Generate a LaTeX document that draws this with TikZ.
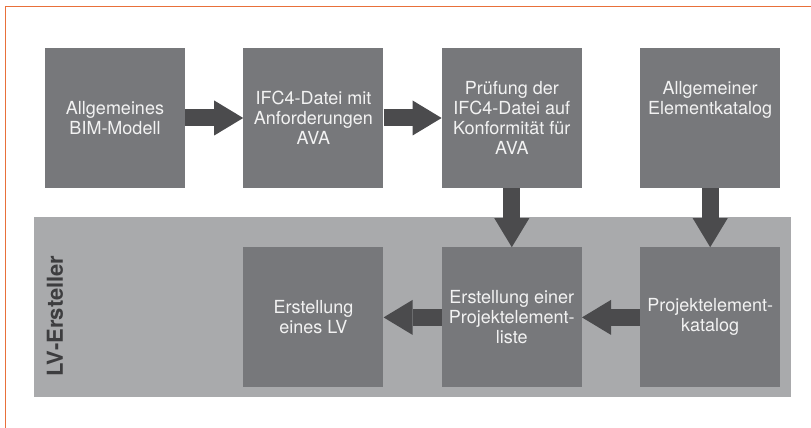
\documentclass[tikz,border=0pt]{standalone}
\usepackage{fontspec}
\setmainfont{TeX Gyre Heros}
\usetikzlibrary{positioning,arrows.meta}
\definecolor{lvbox}{HTML}{77787B}
\definecolor{lvarrow}{HTML}{4B4B4D}
\definecolor{lvband}{HTML}{A9AAAC}
\definecolor{lvtext}{HTML}{F2F2F2}
\definecolor{lvlabel}{HTML}{3D3D3F}
\definecolor{lvframe}{HTML}{E8703A}

\begin{document}
\begin{tikzpicture}[x=1pt, y=1pt,
    stepbox/.style={fill=lvbox, minimum width=140pt, minimum height=140pt,
                    inner sep=0pt, align=center, text=lvtext,
                    font=\fontsize{18}{20}\selectfont},
    flow/.style={draw=lvarrow, line width=17pt,
                 -{Triangle[length=29pt, width=35pt, line width=0pt]}}]
    \useasboundingbox (0,0) rectangle (811,428);
    \draw[lvframe, line width=1pt] (5,0) -- (5,421) -- (811,421);
    \fill[lvband] (34,31) rectangle (791,211);
    \node[rotate=90, text=lvlabel, font=\bfseries\fontsize{22}{24}\selectfont]
      (ersteller) at (55,112) {LV-Ersteller};

    \node[stepbox] (allg) at (115,310) {Allgemeines\\BIM-Modell};
    \node[stepbox, right=58pt of allg] (ifcdatei) {IFC4-Datei mit\\Anforderungen\\AVA};
    \node[stepbox, right=58pt of ifcdatei] (pruefung) {Prüfung der\\IFC4-Datei auf\\Konformität für\\AVA};
    \node[stepbox, right=58pt of pruefung] (elemkat) {Allgemeiner\\Elementkatalog\\~\\~};
    \node[stepbox, below=59pt of pruefung] (liste) {Erstellung einer\\Projektelement-\\liste};
    \node[stepbox, left=58pt of liste] (lverst) {Erstellung\\eines LV};
    \node[stepbox, below=59pt of elemkat] (projkat) {Projektelement-\\katalog};

    \draw[flow] (allg) -- (ifcdatei);
    \draw[flow] (ifcdatei) -- (pruefung);
    \draw[flow] (pruefung) -- (liste);
    \draw[flow] (elemkat) -- (projkat);
    \draw[flow] (projkat) -- (liste);
    \draw[flow] (liste) -- (lverst);
  \end{tikzpicture}
\end{document}
